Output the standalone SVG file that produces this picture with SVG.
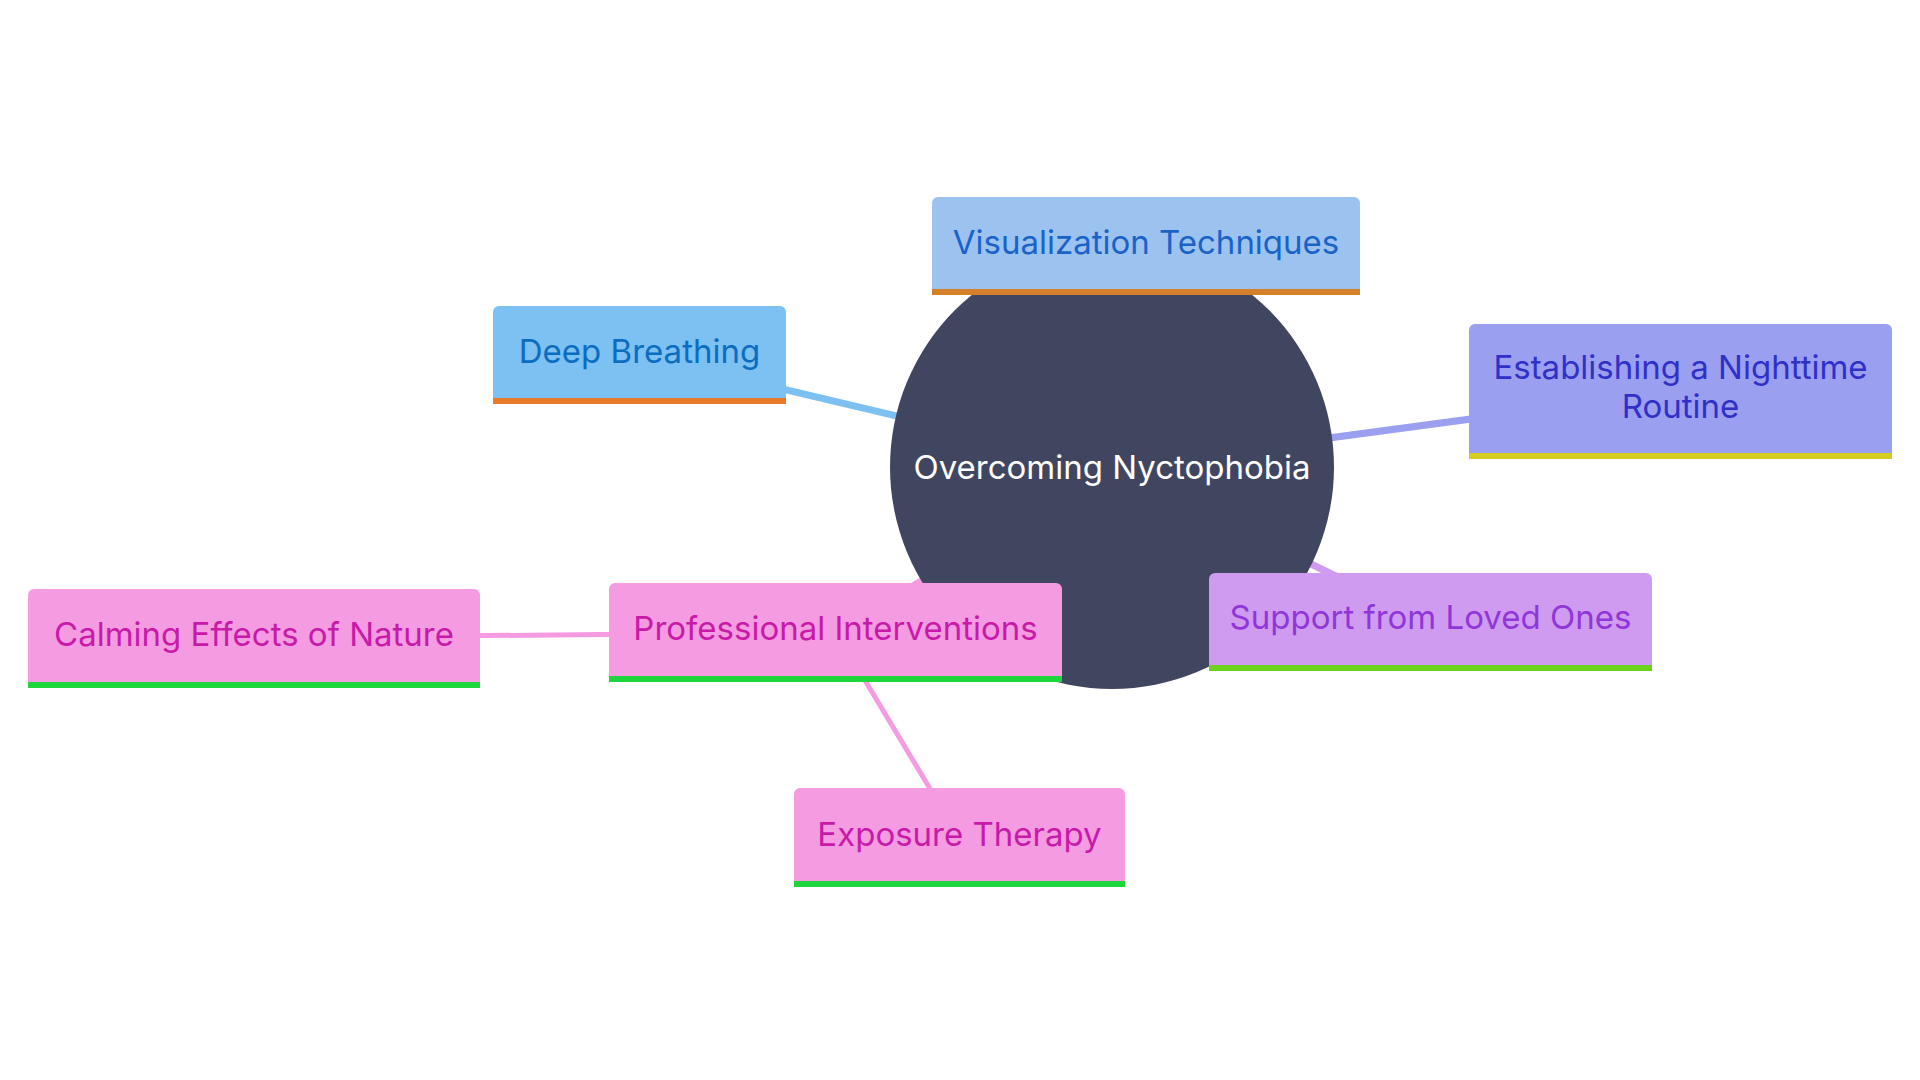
<svg xmlns="http://www.w3.org/2000/svg" width="1920" height="1080" viewBox="0 0 1920 1080">
<style>
text{font-family:Inter,"Noto Sans",sans-serif;font-size:33px;text-anchor:middle;dominant-baseline:central}
.e1{stroke-width:7;fill:none}
.e2{stroke-width:5;fill:none}
</style>
<rect width="1920" height="1080" fill="#ffffff"/>
<g id="connectors">
<line class="e1" x1="1112" y1="467" x2="1146" y2="246" stroke="#9cc3f0"/>
<line class="e1" x1="1112" y1="467" x2="639" y2="355" stroke="#7dc0f2"/>
<line class="e1" x1="1112" y1="467" x2="1680" y2="391" stroke="#9b9ff0"/>
<line class="e1" x1="1112" y1="467" x2="1430" y2="622" stroke="#cf9bf0"/>
<line class="e1" x1="1112" y1="467" x2="836" y2="632" stroke="#f49be2"/>
<line class="e2" x1="836" y1="632" x2="254" y2="638" stroke="#f49be2"/>
<line class="e2" x1="836" y1="632" x2="959" y2="837" stroke="#f49be2"/>
</g>
<g id="root">
<circle cx="1112" cy="467" r="222" fill="#414660"/>
<text x="1112" y="467" fill="#ffffff">Overcoming Nyctophobia</text>
</g>
<g id="vis">
<path d="M932,295 V203 a6,6 0 0 1 6,-6 H1354 a6,6 0 0 1 6,6 V295 Z" fill="#9cc3f0"/>
<rect x="932" y="289" width="428" height="6" fill="#d4802a"/>
<text x="1146" y="242" fill="#1a62c8">Visualization Techniques</text>
</g>
<g id="deep">
<path d="M493,404 V312 a6,6 0 0 1 6,-6 H780 a6,6 0 0 1 6,6 V404 Z" fill="#7dc0f2"/>
<rect x="493" y="398" width="293" height="6" fill="#e87a2a"/>
<text x="639.5" y="351" fill="#0b6dbf">Deep Breathing</text>
</g>
<g id="routine">
<path d="M1469,459 V330 a6,6 0 0 1 6,-6 H1886 a6,6 0 0 1 6,6 V459 Z" fill="#9b9ff0"/>
<rect x="1469" y="453" width="423" height="6" fill="#d6cc22"/>
<text x="1680.5" y="367" fill="#3030c8">Establishing a Nighttime</text>
<text x="1680.5" y="406" fill="#3030c8">Routine</text>
</g>
<g id="support">
<path d="M1209,671 V579 a6,6 0 0 1 6,-6 H1646 a6,6 0 0 1 6,6 V671 Z" fill="#cf9bf0"/>
<rect x="1209" y="665" width="443" height="6" fill="#6cd21e"/>
<text x="1430.5" y="617" fill="#9036d8">Support from Loved Ones</text>
</g>
<g id="professional">
<path d="M609,682 V589 a6,6 0 0 1 6,-6 H1056 a6,6 0 0 1 6,6 V682 Z" fill="#f49be2"/>
<rect x="609" y="676" width="453" height="6" fill="#1dd63c"/>
<text x="835.5" y="628" fill="#c81aa8">Professional Interventions</text>
</g>
<g id="calming">
<path d="M28,688 V595 a6,6 0 0 1 6,-6 H474 a6,6 0 0 1 6,6 V688 Z" fill="#f49be2"/>
<rect x="28" y="682" width="452" height="6" fill="#1dd63c"/>
<text x="254" y="634" fill="#c81aa8">Calming Effects of Nature</text>
</g>
<g id="exposure">
<path d="M794,887 V794 a6,6 0 0 1 6,-6 H1119 a6,6 0 0 1 6,6 V887 Z" fill="#f49be2"/>
<rect x="794" y="881" width="331" height="6" fill="#1dd63c"/>
<text x="959.5" y="834" fill="#c81aa8">Exposure Therapy</text>
</g>
</svg>
